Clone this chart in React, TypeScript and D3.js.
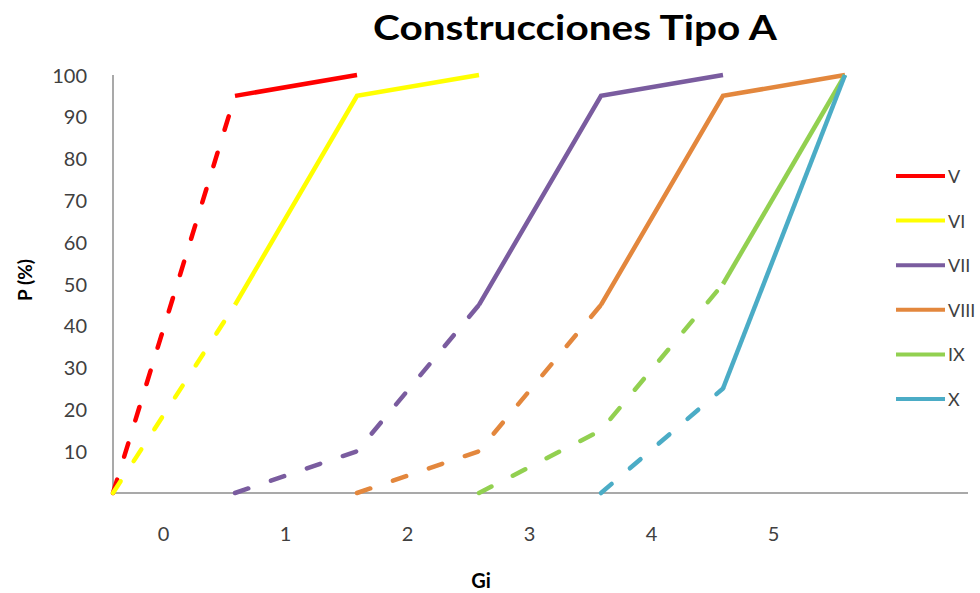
import React from "react";
import * as d3 from "d3";

const W = 980;
const H = 593;

const title = "Construcciones Tipo A";
const xTitle = "Gi";
const yTitle = "P (%)";
const xTickLabels = ["0", "1", "2", "3", "4", "5"];
const yTicks = [10, 20, 30, 40, 50, 60, 70, 80, 90, 100];

const seriesNames = ["V", "VI", "VII", "VIII", "IX", "X"];
const seriesColors = ["#FF0000", "#FFFF00", "#7A5C9F", "#E3873D", "#92D050", "#4BACC6"];
// start position index of each series on the x grid
const seriesStart = [0, 0, 1, 2, 3, 4];
// values of each series (P %)
const valsV = [0, 95, 100];
const valsVI = [0, 45, 95, 100];
const valsVII = [0, 10, 45, 95, 100];
const valsVIII = [0, 10, 45, 95, 100];
const valsIX = [0, 15, 50, 100];
const valsX = [0, 25, 100];
// number of dashed segments at the start of each series
const dashedSegments = [1, 1, 2, 2, 2, 1];

const seriesValues = [valsV, valsVI, valsVII, valsVIII, valsIX, valsX];

export default function App() {
  const x = d3.scaleLinear().domain([0, 6]).range([113, 845]);
  const y = d3.scaleLinear().domain([0, 100]).range([493, 75]);
  const line = d3
    .line<[number, number]>()
    .x((d) => x(d[0]))
    .y((d) => y(d[1]));

  const font = "Lato, 'Open Sans', sans-serif";
  const textColor = "#404040";

  return (
    <svg
      width={W}
      height={H}
      style={{ position: "absolute", left: 0, top: 0, background: "#fff" }}
    >
      <rect x={0} y={0} width={W} height={H} fill="#fff" />
      <text
        x={575}
        y={40}
        textAnchor="middle"
        fontFamily={font}
        fontWeight="bold"
        fontSize={35}
        fill="#000"
        textLength={404}
        lengthAdjust="spacingAndGlyphs"
      >
        {title}
      </text>

      {/* axes */}
      <line x1={113} x2={113} y1={75} y2={493} stroke="#8c8c8c" strokeWidth={1.5} />
      <line x1={111} x2={968} y1={493} y2={493} stroke="#8c8c8c" strokeWidth={1.5} />

      {yTicks.map((t) => (
        <text
          key={t}
          x={87}
          y={y(t) + 7.5}
          textAnchor="end"
          fontFamily={font}
          fontSize={20}
          fill={textColor}
        >
          {t}
        </text>
      ))}

      {xTickLabels.map((l, i) => (
        <text
          key={l}
          x={x(i + 0.415)}
          y={541}
          textAnchor="middle"
          fontFamily={font}
          fontSize={20}
          fill={textColor}
        >
          {l}
        </text>
      ))}

      <text
        x={481}
        y={588}
        textAnchor="middle"
        fontFamily={font}
        fontWeight="bold"
        fontSize={20}
        fill="#000"
      >
        {xTitle}
      </text>
      <text
        transform={`translate(32,280) rotate(-90)`}
        textAnchor="middle"
        fontFamily={font}
        fontWeight="bold"
        fontSize={19}
        fill="#000"
      >
        {yTitle}
      </text>

      {/* series */}
      {seriesValues.map((vals, si) => {
        const pts: [number, number][] = vals.map((v, i) => [seriesStart[si] + i, v]);
        const nd = dashedSegments[si];
        const dashed = pts.slice(0, nd + 1);
        const solid = pts.slice(nd);
        return (
          <g key={si}>
            <path
              d={line(dashed) || ""}
              fill="none"
              stroke={seriesColors[si]}
              strokeWidth={4.5}
              strokeDasharray="14 24"
              strokeLinecap="round"
              strokeLinejoin="round"
            />
            <path
              d={line(solid) || ""}
              fill="none"
              stroke={seriesColors[si]}
              strokeWidth={4.5}
              strokeLinecap="butt"
              strokeLinejoin="miter"
            />
          </g>
        );
      })}

      {/* legend */}
      {seriesNames.map((n, i) => {
        const ly = 176 + i * 44.6;
        return (
          <g key={n}>
            <line x1={896} x2={945} y1={ly} y2={ly} stroke={seriesColors[i]} strokeWidth={4} />
            <text x={948} y={ly + 7} fontFamily={font} fontSize={18} fill={textColor}>
              {n}
            </text>
          </g>
        );
      })}
    </svg>
  );
}
